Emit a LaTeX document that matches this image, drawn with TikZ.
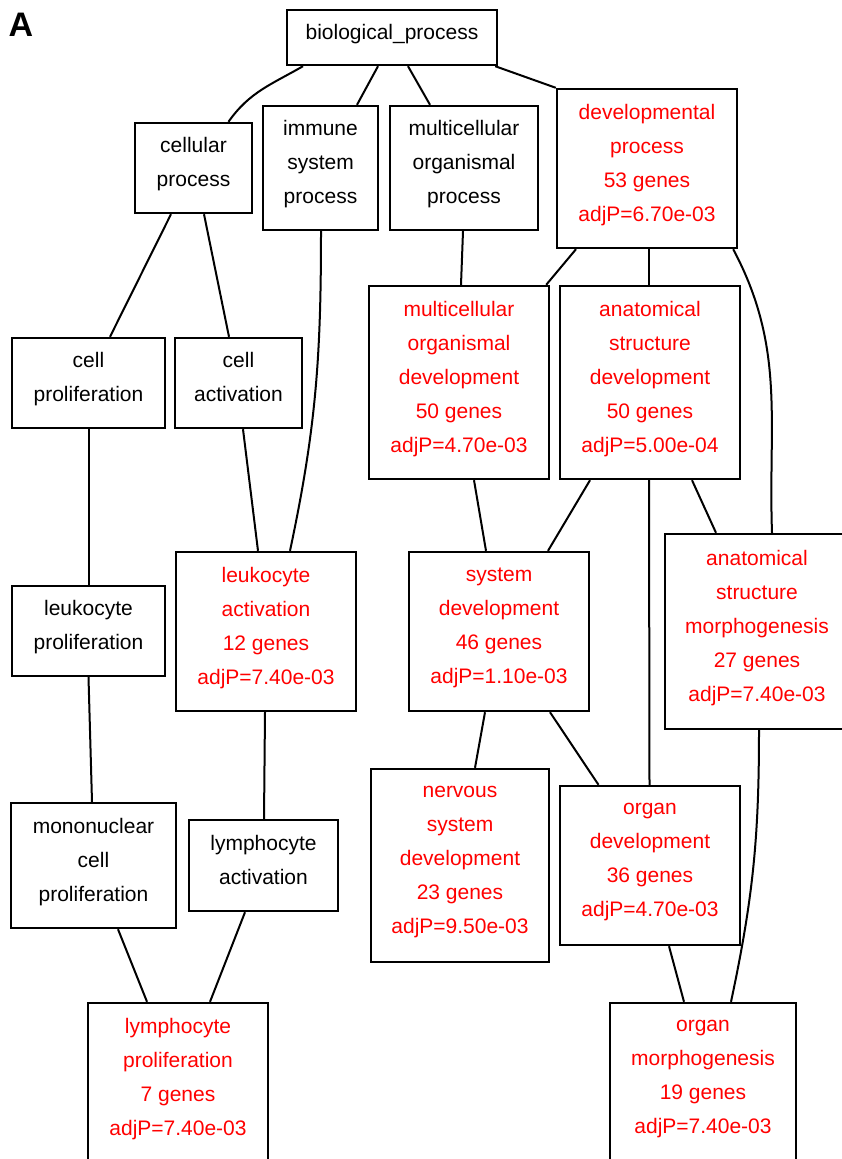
\documentclass[tikz,border=0pt]{standalone}
\usepackage{fontspec}
\newfontfamily\gofont{Liberation Sans}
\begin{document}
\begin{tikzpicture}[x=1pt,y=1pt,
  box/.style={draw=black, line width=2.4pt, fill=white, align=center, inner sep=0pt,
    font={\gofont\fontsize{21}{34}\selectfont},
    execute at end node={\rule[-12pt]{0pt}{12pt}}},
  sig/.style={box, text=red},
  edge/.style={draw=black, line width=2pt}]
\useasboundingbox (0,0) rectangle (842,-1159);
\clip (0,0) rectangle (842,-1159);
\fill[white] (0,0) rectangle (842,-1159);
\node[font={\gofont\bfseries\fontsize{34}{34}\selectfont}] (lbl) at (21,-25) {A};
% nodes
\node[box, minimum width=210pt, minimum height=55pt] (bp) at (392,-37.5) {biological\_process};
\node[box, minimum width=117pt, minimum height=90pt] (cel) at (193.5,-168) {cellular\\process};
\node[box, minimum width=115pt, minimum height=124pt] (imm) at (320.5,-168) {immune\\system\\process};
\node[box, minimum width=148pt, minimum height=124pt] (mop) at (464,-168) {multicellular\\organismal\\process};
\node[sig, minimum width=180pt, minimum height=159pt] (dev) at (647,-168.5) {developmental\\process\\53 genes\\adjP=6.70e-03};
\node[box, minimum width=153pt, minimum height=90pt] (cp) at (88.5,-383) {cell\\proliferation};
\node[box, minimum width=127pt, minimum height=90pt] (ca) at (238.5,-383) {cell\\activation};
\node[sig, minimum width=180pt, minimum height=193pt] (mod) at (459,-382.5) {multicellular\\organismal\\development\\50 genes\\adjP=4.70e-03};
\node[sig, minimum width=180pt, minimum height=193pt] (asd) at (650,-382.5) {anatomical\\structure\\development\\50 genes\\adjP=5.00e-04};
\node[box, minimum width=153pt, minimum height=90pt] (lp) at (88.5,-631) {leukocyte\\proliferation};
\node[sig, minimum width=180pt, minimum height=159pt] (la) at (266,-631.5) {leukocyte\\activation\\12 genes\\adjP=7.40e-03};
\node[sig, minimum width=180pt, minimum height=159pt] (sd) at (499,-631.5) {system\\development\\46 genes\\adjP=1.10e-03};
\node[sig, minimum width=184pt, minimum height=195pt] (asm) at (757,-631.5) {anatomical\\structure\\morphogenesis\\27 genes\\adjP=7.40e-03};
\node[box, minimum width=165pt, minimum height=125pt] (mono) at (93.5,-865.5) {mononuclear\\cell\\proliferation};
\node[box, minimum width=149pt, minimum height=91pt] (lya) at (263.5,-865.5) {lymphocyte\\activation};
\node[sig, minimum width=178pt, minimum height=193pt] (nsd) at (460,-865.5) {nervous\\system\\development\\23 genes\\adjP=9.50e-03};
\node[sig, minimum width=180pt, minimum height=159pt] (od) at (650,-865.5) {organ\\development\\36 genes\\adjP=4.70e-03};
\node[sig, minimum width=180pt, minimum height=159pt] (lyp) at (178,-1082.5) {lymphocyte\\proliferation\\7 genes\\adjP=7.40e-03};
\node[sig, minimum width=186pt, minimum height=159pt] (om) at (703,-1082.5) {organ\\morphogenesis\\19 genes\\adjP=7.40e-03};
% edges
\draw[edge] ([xshift=-89pt]bp.south) to[out=210,in=55] ([xshift=35pt]cel.north);
\draw[edge] ([xshift=-14pt]bp.south) -- ([xshift=36.5pt]imm.north);
\draw[edge] ([xshift=16pt]bp.south) -- ([xshift=-34pt]mop.north);
\draw[edge] ([xshift=-3pt]bp.south east) -- (dev.north west);
\draw[edge] ([xshift=-22.5pt]cel.south) -- ([xshift=21.5pt]cp.north);
\draw[edge] ([xshift=10.5pt]cel.south) -- ([xshift=-9.5pt]ca.north);
\draw[edge] ([xshift=0.5pt]imm.south) to[out=-90,in=78] ([xshift=24pt]la.north);
\draw[edge] ([xshift=-1pt]mop.south) -- ([xshift=2pt]mod.north);
\draw[edge] ([xshift=-71pt]dev.south) -- ([xshift=-4pt]mod.north east);
\draw[edge] ([xshift=2pt]dev.south) -- ([xshift=-1pt]asd.north);
\draw[edge] ([xshift=-5pt]dev.south east) to[out=-62,in=92] ([xshift=15pt]asm.north);
\draw[edge] (cp.south) -- (lp.north);
\draw[edge] ([xshift=4.5pt]ca.south) -- ([xshift=-8pt]la.north);
\draw[edge] ([xshift=15pt]mod.south) -- ([xshift=-13pt]sd.north);
\draw[edge] ([xshift=-60pt]asd.south) -- ([xshift=49pt]sd.north);
\draw[edge] ([xshift=-1pt]asd.south) -- ([xshift=-0.5pt]od.north);
\draw[edge] ([xshift=42pt]asd.south) -- ([xshift=-41pt]asm.north);
\draw[edge] (lp.south) -- ([xshift=-1.5pt]mono.north);
\draw[edge] ([xshift=-1pt]la.south) -- ([xshift=0.5pt]lya.north);
\draw[edge] ([xshift=-14pt]sd.south) -- ([xshift=15pt]nsd.north);
\draw[edge] ([xshift=51pt]sd.south) -- ([xshift=-51.5pt]od.north);
\draw[edge] ([xshift=2pt]asm.south) to[out=-90,in=78] ([xshift=28pt]om.north);
\draw[edge] ([xshift=24.5pt]mono.south) -- ([xshift=-31pt]lyp.north);
\draw[edge] ([xshift=-18.5pt]lya.south) -- ([xshift=32pt]lyp.north);
\draw[edge] ([xshift=19pt]od.south) -- ([xshift=-19pt]om.north);
\end{tikzpicture}
\end{document}
